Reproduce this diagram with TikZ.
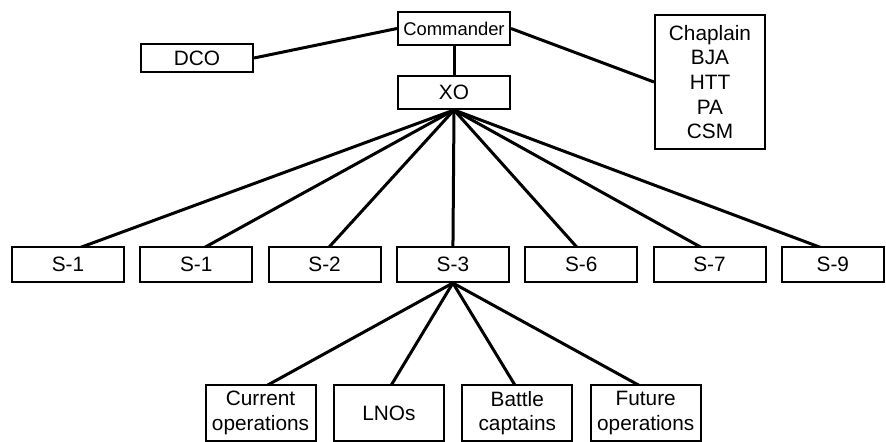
\documentclass[tikz,border=0pt]{standalone}
\usepackage{fontspec}
\setmainfont{Liberation Sans}
\usetikzlibrary{positioning,calc,backgrounds}

\begin{document}
\begin{tikzpicture}[
  x=0.5pt, y=-0.5pt,
  unit/.style={draw, line width=1pt, fill=white, minimum width=56pt, minimum height=16.5pt, inner sep=1pt, font=\fontsize{10.4}{12.35}\selectfont},
  staff/.style={unit, minimum height=17.5pt},
  cell/.style={unit, align=center, minimum width=55pt, minimum height=28pt},
  link/.style={line width=1.5pt},
]
\useasboundingbox (0,0) rectangle (886,441);

% command group
\node[unit, font=\fontsize{9.2}{11}\selectfont] (cdr) at (454,28.5) {Commander};
\node[unit] (xo) at (454,92.5) {XO};
\node[unit, minimum height=14pt] (dco) at (197,58) {DCO};
\node[unit, align=center, minimum width=55pt, minimum height=67pt] (spec) at (710,82) {Chaplain\\BJA\\HTT\\PA\\CSM};

% staff sections
\node[staff] (s1a) at (68,264.5) {S-1};
\node[staff, right=7.15pt of s1a] (s1b) {S-1};
\node[staff, right=7.15pt of s1b] (s2) {S-2};
\node[staff, right=7.15pt of s2] (s3) {S-3};
\node[staff, right=7.15pt of s3] (s6) {S-6};
\node[staff, right=7.15pt of s6] (s7) {S-7};
\node[staff, right=7.15pt of s7, minimum width=51pt] (s9) {S-9};

% S-3 cells
\node[cell] (curops) at (260.5,413) {Current\\operations};
\node[cell, right=8.2pt of curops] (lno) {LNOs};
\node[cell, right=8.2pt of lno] (btlcpt) {Battle\\captains};
\node[cell, right=8.2pt of btlcpt] (futops) {Future\\operations};

\begin{scope}[on background layer]
\draw[link] (dco.east) -- (cdr.west);
\draw[link] (cdr.east) -- (spec.west);
\draw[link] (cdr.south) -- (xo.north);
\draw[link] (xo.south) -- ($(s1a.north)+(0,6)$);
\draw[link] (xo.south) -- ($(s1b.north)+(0,6)$);
\draw[link] (xo.south) -- ($(s2.north)+(0,6)$);
\draw[link] (xo.south) -- ($(s3.north)+(0,6)$);
\draw[link] (xo.south) -- ($(s6.north)+(0,6)$);
\draw[link] (xo.south) -- ($(s7.north)+(0,6)$);
\draw[link] (xo.south) -- ($(s9.north)+(0,6)$);
\draw[link] (s3.south) -- ($(curops.north)+(0,5)$);
\draw[link] (s3.south) -- ($(lno.north)+(0,5)$);
\draw[link] (s3.south) -- ($(btlcpt.north)+(0,5)$);
\draw[link] (s3.south) -- ($(futops.north)+(0,5)$);
\end{scope}
\end{tikzpicture}
\end{document}
